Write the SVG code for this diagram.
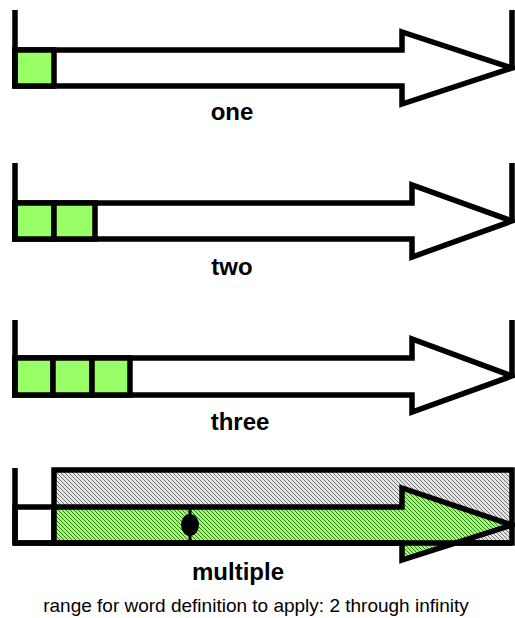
<svg xmlns="http://www.w3.org/2000/svg" width="515" height="618" viewBox="0 0 515 618">
<style>
.o{fill:none;stroke:#000;stroke-width:5.5;stroke-linejoin:miter}
.a{fill:#fff;stroke:#000;stroke-width:5.5;stroke-linejoin:miter}
.g{fill:#99ff66;stroke:#000;stroke-width:5.5}
.lbl{font-family:"Liberation Sans",Arial,sans-serif;font-weight:bold;font-size:24px;fill:#000;text-anchor:middle}
.cap{font-family:"Liberation Sans",Arial,sans-serif;font-size:19px;fill:#000;text-anchor:middle}
</style>
<defs>
<pattern id="hg" patternUnits="userSpaceOnUse" width="4" height="4">
<rect width="4" height="4" fill="#e4e4e4"/>
<path d="M0,0L4,4M-1,3L1,5M3,-1L5,1" stroke="#777" stroke-width="1"/>
</pattern>
<pattern id="hgr" patternUnits="userSpaceOnUse" width="4" height="4">
<rect width="4" height="4" fill="#99ff66"/>
<path d="M0,0L4,4M-1,3L1,5M3,-1L5,1" stroke="#3d7a28" stroke-width="1"/>
</pattern>
</defs>
<rect width="515" height="618" fill="#fff"/>
<g id="one">
<polygon class="a" points="15,50 402,50 402,32 512,68 402,104 402,86 15,86"/>
<rect class="g" x="15" y="50" width="39" height="36"/>
<path class="o" d="M15,10V88M512,10V70"/>
<text class="lbl" x="232" y="120">one</text>
</g>
<g id="two">
<polygon class="a" points="15,203 412,203 412,185 512,221 412,257 412,239 15,239"/>
<rect class="g" x="15" y="203" width="39" height="36"/>
<rect class="g" x="54" y="203" width="41" height="36"/>
<path class="o" d="M15,163V241M512,163V223"/>
<text class="lbl" x="232" y="275">two</text>
</g>
<g id="three">
<polygon class="a" points="15,358 412,358 412,339 512,376 412,412 412,395 15,395"/>
<rect class="g" x="15" y="358" width="38" height="37"/>
<rect class="g" x="53" y="358" width="39" height="37"/>
<rect class="g" x="92" y="358" width="38" height="37"/>
<path class="o" d="M15,320V397M512,320V378"/>
<text class="lbl" x="240" y="430">three</text>
</g>
<g id="multiple">
<rect x="54" y="470" width="458" height="73" fill="url(#hg)" stroke="#000" stroke-width="5.5"/>
<rect x="15" y="507" width="39" height="36" fill="#fff" stroke="#000" stroke-width="5.5"/>
<polygon points="54,507 402,507 402,488 512,525 402,560 402,543 54,543" fill="url(#hgr)" stroke="#000" stroke-width="5.5"/>
<path class="o" d="M15,468V545M13,543H512"/>
<path d="M190,507V543" stroke="#000" stroke-width="3"/>
<ellipse cx="190" cy="525" rx="9" ry="11" fill="#000"/>
<text class="lbl" x="238" y="580">multiple</text>
<text class="cap" x="256" y="612">range for word definition to apply: 2 through infinity</text>
</g>
</svg>
